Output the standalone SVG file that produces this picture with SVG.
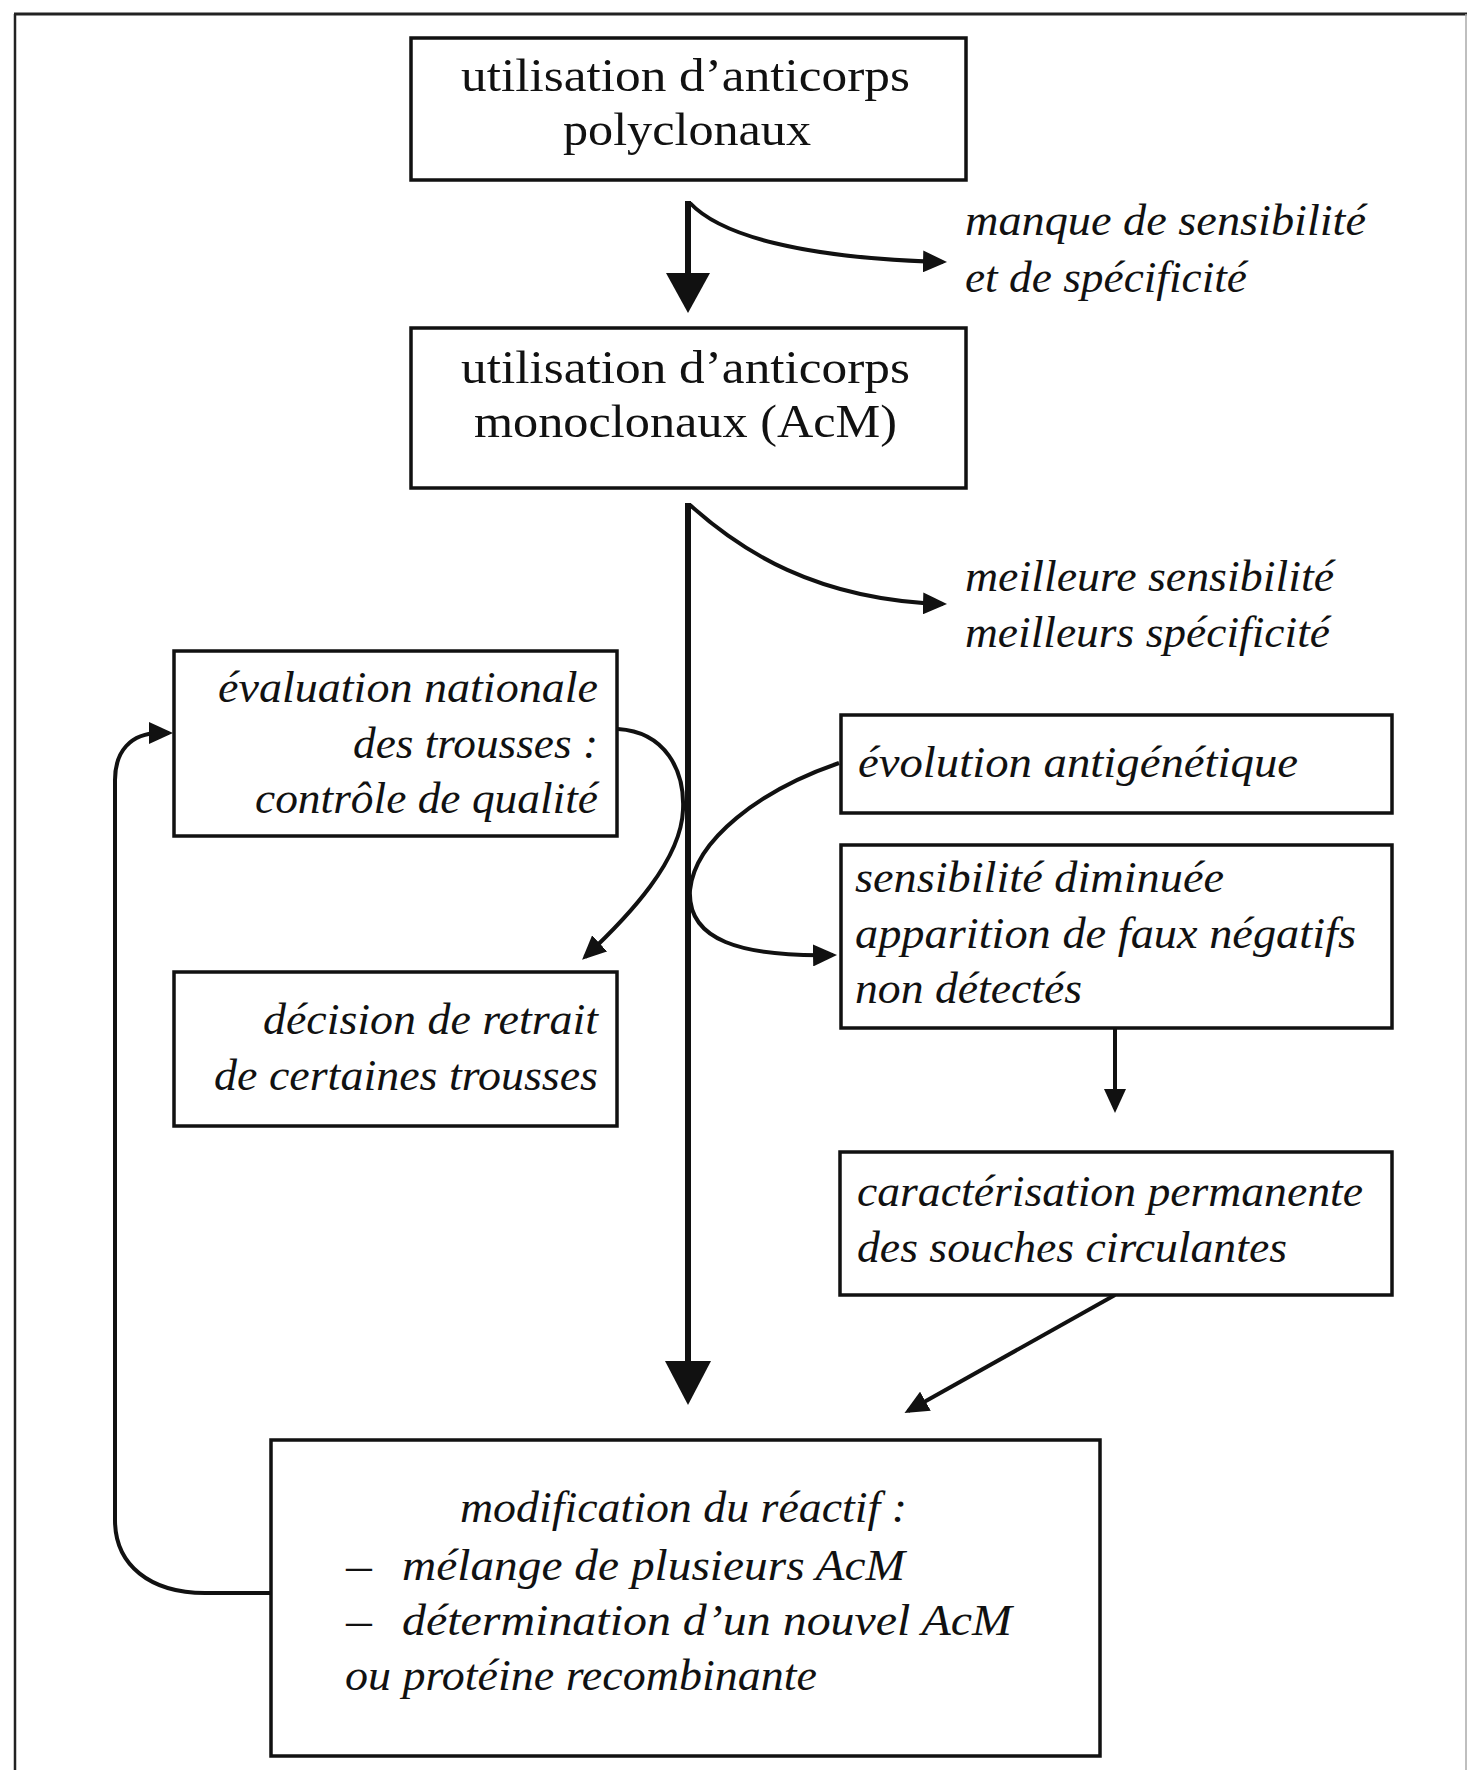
<svg xmlns="http://www.w3.org/2000/svg" width="1474" height="1770" viewBox="0 0 1474 1770">
<style>
.box{fill:#fff;stroke:#111;stroke-width:3.5}
.up{font-family:"Liberation Serif","Times New Roman",serif;font-size:46px;fill:#111}
.it{font-family:"Liberation Serif","Times New Roman",serif;font-size:44px;font-style:italic;fill:#111}
.thin{fill:none;stroke:#111;stroke-width:4}
.thick{fill:none;stroke:#111;stroke-width:6}
</style>
<defs>
<marker id="ah" markerUnits="userSpaceOnUse" markerWidth="24" markerHeight="22" viewBox="0 0 24 22" refX="20" refY="11" orient="auto">
<path d="M0,0 L24,11 L0,22 z" fill="#111"/>
</marker>
</defs>
<rect width="1474" height="1770" fill="#fff"/>
<g id="frame">
<line x1="15" y1="14" x2="15" y2="1770" stroke="#222" stroke-width="2.5"/>
<line x1="14" y1="14" x2="1467" y2="14" stroke="#222" stroke-width="3"/>
<line x1="1466" y1="14" x2="1466" y2="1770" stroke="#aaa" stroke-width="1.5"/>
</g>
<g id="connectors">
<line class="thick" x1="688" y1="201" x2="688" y2="276"/>
<polygon points="666,273 710,273 688,313" fill="#111"/>
<path class="thin" d="M690 203 C720 235 800 258 943 262" marker-end="url(#ah)"/>
<line class="thick" x1="688" y1="503" x2="688" y2="1364"/>
<polygon points="665,1361 711,1361 688,1405" fill="#111"/>
<path class="thin" d="M690 505 C740 550 815 600 943 604" marker-end="url(#ah)"/>
<path class="thin" d="M618 729 C665 732 685 770 683 810 C681 860 630 915 585 957" marker-end="url(#ah)"/>
<path class="thin" d="M839 763 C760 790 695 840 690 890 C687 940 740 957 833 955" marker-end="url(#ah)"/>
<line class="thin" x1="1115" y1="1028" x2="1115" y2="1109" marker-end="url(#ah)"/>
<line class="thin" x1="1115" y1="1295" x2="908" y2="1411" marker-end="url(#ah)"/>
<path class="thin" d="M271 1593 L205 1593 C150 1593 115 1565 115 1520 L115 780 C115 752 130 733 160 733 L169 733" marker-end="url(#ah)"/>
</g>
<g id="n1">
<rect class="box" x="411" y="38" width="555" height="142"/>
<text class="up" x="461" y="91" textLength="449" lengthAdjust="spacingAndGlyphs">utilisation d’anticorps</text>
<text class="up" x="563" y="145" textLength="248" lengthAdjust="spacingAndGlyphs">polyclonaux</text>
</g>
<g id="l1">
<text class="it" x="965" y="235" textLength="401" lengthAdjust="spacingAndGlyphs">manque de sensibilité</text>
<text class="it" x="965" y="292" textLength="282" lengthAdjust="spacingAndGlyphs">et de spécificité</text>
</g>
<g id="n2">
<rect class="box" x="411" y="328" width="555" height="160"/>
<text class="up" x="461" y="383" textLength="449" lengthAdjust="spacingAndGlyphs">utilisation d’anticorps</text>
<text class="up" x="474" y="437" textLength="423" lengthAdjust="spacingAndGlyphs">monoclonaux (AcM)</text>
</g>
<g id="l2">
<text class="it" x="965" y="591" textLength="369" lengthAdjust="spacingAndGlyphs">meilleure sensibilité</text>
<text class="it" x="965" y="647" textLength="365" lengthAdjust="spacingAndGlyphs">meilleurs spécificité</text>
</g>
<g id="n3">
<rect class="box" x="174" y="651" width="443" height="185"/>
<text class="it" x="218" y="702" textLength="380" lengthAdjust="spacingAndGlyphs">évaluation nationale</text>
<text class="it" x="353" y="758" textLength="245" lengthAdjust="spacingAndGlyphs">des trousses :</text>
<text class="it" x="255" y="813" textLength="343" lengthAdjust="spacingAndGlyphs">contrôle de qualité</text>
</g>
<g id="n4">
<rect class="box" x="174" y="972" width="443" height="154"/>
<text class="it" x="263" y="1034" textLength="335" lengthAdjust="spacingAndGlyphs">décision de retrait</text>
<text class="it" x="214" y="1090" textLength="384" lengthAdjust="spacingAndGlyphs">de certaines trousses</text>
</g>
<g id="n5">
<rect class="box" x="841" y="715" width="551" height="98"/>
<text class="it" x="858" y="777" textLength="440" lengthAdjust="spacingAndGlyphs">évolution antigénétique</text>
</g>
<g id="n6">
<rect class="box" x="841" y="845" width="551" height="183"/>
<text class="it" x="855" y="892" textLength="369" lengthAdjust="spacingAndGlyphs">sensibilité diminuée</text>
<text class="it" x="855" y="948" textLength="501" lengthAdjust="spacingAndGlyphs">apparition de faux négatifs</text>
<text class="it" x="855" y="1003" textLength="227" lengthAdjust="spacingAndGlyphs">non détectés</text>
</g>
<g id="n7">
<rect class="box" x="840" y="1152" width="552" height="143"/>
<text class="it" x="857" y="1206" textLength="506" lengthAdjust="spacingAndGlyphs">caractérisation permanente</text>
<text class="it" x="857" y="1262" textLength="430" lengthAdjust="spacingAndGlyphs">des souches circulantes</text>
</g>
<g id="n8">
<rect class="box" x="271" y="1440" width="829" height="316"/>
<text class="it" x="460" y="1522" textLength="447" lengthAdjust="spacingAndGlyphs">modification du réactif :</text>
<text class="it" y="1580"><tspan x="346" textLength="26" lengthAdjust="spacingAndGlyphs">—</tspan><tspan x="402" textLength="503" lengthAdjust="spacingAndGlyphs">mélange de plusieurs AcM</tspan></text>
<text class="it" y="1635"><tspan x="346" textLength="26" lengthAdjust="spacingAndGlyphs">—</tspan><tspan x="402" textLength="610" lengthAdjust="spacingAndGlyphs">détermination d’un nouvel AcM</tspan></text>
<text class="it" x="345" y="1690" textLength="472" lengthAdjust="spacingAndGlyphs">ou protéine recombinante</text>
</g>
</svg>
